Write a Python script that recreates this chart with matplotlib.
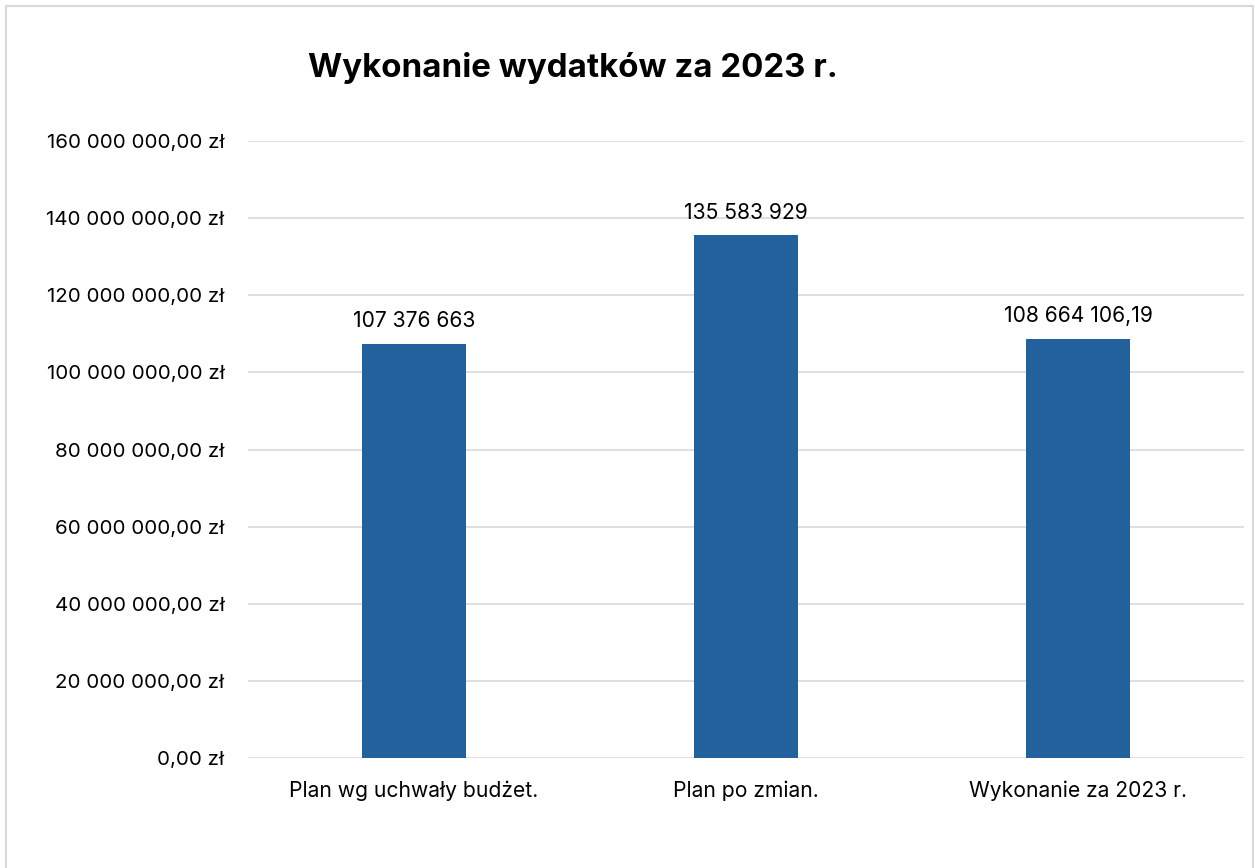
import matplotlib
matplotlib.use("Agg")
import matplotlib.pyplot as plt
from matplotlib.patches import Rectangle

categories = ["Plan wg uchwały budżet.", "Plan po zmian.", "Wykonanie za 2023 r."]
values = [107376663, 135583929, 108664106.19]
value_labels = ["107 376 663", "135 583 929", "108 664 106,19"]
yticks = [0, 20e6, 40e6, 60e6, 80e6, 100e6, 120e6, 140e6, 160e6]
ytick_labels = ["0,00 zł", "20 000 000,00 zł", "40 000 000,00 zł", "60 000 000,00 zł",
                "80 000 000,00 zł", "100 000 000,00 zł", "120 000 000,00 zł",
                "140 000 000,00 zł", "160 000 000,00 zł"]
title = "Wykonanie wydatków za 2023 r."

plt.rcParams['font.family'] = ['Inter', 'DejaVu Sans']

W, H = 1255, 868
fig = plt.figure(figsize=(W/100, H/100), dpi=100)
fig.patches.append(Rectangle((6/W, -0.05), (1253-6)/W, 1.05 - 6/H, transform=fig.transFigure,
                             fill=False, edgecolor="#D9D9D9", linewidth=1.5))

ax = fig.add_axes([248/W, 1 - 758/H, (1244-248)/W, (758-141)/H])
x = list(range(len(categories)))
bars = ax.bar(x, values, width=0.313, color="#22619C", zorder=3)
ax.set_xlim(-0.5, len(categories) - 0.5)
ax.set_ylim(0, 160e6)
ax.set_yticks(yticks)
ax.set_yticklabels(ytick_labels, fontsize=14.8)
ax.set_xticks(x)
ax.set_xticklabels(categories, fontsize=15.2)
ax.tick_params(axis='both', length=0, colors="#000000")
ax.tick_params(axis='y', pad=17)
ax.tick_params(axis='x', pad=16)
ax.grid(axis='y', color="#D9D9D9", linewidth=1.2, zorder=0)
for s in ax.spines.values():
    s.set_visible(False)

for xi, v, lab in zip(x, values, value_labels):
    ax.annotate(lab, (xi, v), xytext=(0, 9), textcoords="offset points",
                ha="center", va="bottom", fontsize=15.2)

fig.text(573/W, 1 - 68/H, title, ha="center", va="center", fontsize=23.8, fontweight="bold")

fig.savefig("out.png", dpi=100)
